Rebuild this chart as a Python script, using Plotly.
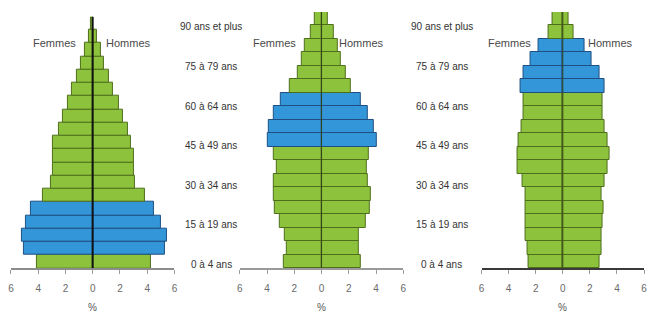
import plotly.graph_objects as go

ages = ["0 à 4 ans", "5 à 9 ans", "10 à 14 ans", "15 à 19 ans", "20 à 24 ans",
        "25 à 29 ans", "30 à 34 ans", "35 à 39 ans", "40 à 44 ans", "45 à 49 ans",
        "50 à 54 ans", "55 à 59 ans", "60 à 64 ans", "65 à 69 ans", "70 à 74 ans",
        "75 à 79 ans", "80 à 84 ans", "85 à 89 ans", "90 ans et plus"]

femmes_1 = [4.07, 5.04, 5.21, 4.87, 4.51, 3.66, 3.05, 2.93, 2.93, 2.93,
            2.50, 2.20, 1.82, 1.53, 1.16, 0.87, 0.56, 0.27, 0.10]
hommes_1 = [4.29, 5.33, 5.43, 5.02, 4.51, 3.85, 3.13, 3.00, 3.00, 2.84,
            2.59, 2.23, 1.94, 1.50, 1.19, 0.85, 0.61, 0.29, 0.05]
femmes_2 = [2.76, 2.57, 2.69, 3.10, 3.42, 3.49, 3.47, 3.30, 3.49, 3.98,
            3.85, 3.49, 3.00, 2.33, 1.77, 1.43, 1.24, 0.82, 0.51]
hommes_2 = [2.91, 2.72, 2.76, 3.25, 3.56, 3.61, 3.42, 3.32, 3.49, 4.05,
            3.85, 3.37, 2.88, 2.16, 1.79, 1.43, 1.19, 0.87, 0.45]
femmes_3 = [2.52, 2.64, 2.72, 2.76, 2.76, 2.76, 3.00, 3.37, 3.37, 3.30,
            3.05, 2.88, 2.88, 3.13, 2.88, 2.40, 1.79, 1.07, 0.75]
hommes_3 = [2.69, 2.86, 2.86, 2.93, 2.98, 2.86, 3.05, 3.30, 3.42, 3.30,
            3.05, 2.93, 2.93, 3.10, 2.69, 2.13, 1.60, 0.80, 0.39]

# baby-boom cohort highlighted in blue (first age-group index of the 4 groups)
boom_start = [1, 9, 13]
shown_ages = ["0 à 4 ans", "15 à 19 ans", "30 à 34 ans", "45 à 49 ans",
              "60 à 64 ans", "75 à 79 ans", "90 ans et plus"]
tick_vals = [-6, -4, -2, 0, 2, 4, 6]
tick_text = ["6", "4", "2", "0", "2", "4", "6"]

GREEN, GREEN_LINE = "#8cc23c", "#4f6e1c"
BLUE, BLUE_LINE = "#3396d8", "#1f4f82"

W, H = 651, 322
x_domains = [(8, 173), (239, 404), (483, 647)]
y_domains = [(16.7, 268.3), (12.0, 268.3), (12.0, 268.3)]
axis_line_colors = ["#8c8c8c", "#9a9a9a", "#3a3a3a"]
fem_centers = [-2.8, -3.47, -3.92]
hom_centers = [2.62, 2.95, 3.51]

panels = [(femmes_1, hommes_1), (femmes_2, hommes_2), (femmes_3, hommes_3)]

fig = go.Figure()
yidx = list(range(len(ages)))

for p, (fem, hom) in enumerate(panels):
    xa = "x" if p == 0 else f"x{p+1}"
    ya = "y" if p == 0 else f"y{p+1}"
    s = boom_start[p]
    cols = [BLUE if s <= i < s + 4 else GREEN for i in yidx]
    lcols = [BLUE_LINE if s <= i < s + 4 else GREEN_LINE for i in yidx]
    fig.add_trace(go.Bar(y=yidx, x=[-v for v in fem], orientation="h", width=1,
                         marker=dict(color=cols, line=dict(color=lcols, width=1)),
                         xaxis=xa, yaxis=ya, showlegend=False, name="Femmes",
                         text=ages, hovertemplate="%{text}: %{customdata}%<extra>Femmes</extra>",
                         customdata=fem, textposition="none"))
    fig.add_trace(go.Bar(y=yidx, x=hom, orientation="h", width=1,
                         marker=dict(color=cols, line=dict(color=lcols, width=1)),
                         xaxis=xa, yaxis=ya, showlegend=False, name="Hommes",
                         text=ages, hovertemplate="%{text}: %{x}%<extra>Hommes</extra>",
                         textposition="none"))

layout = dict(width=W, height=H, margin=dict(l=0, r=0, t=0, b=0),
              paper_bgcolor="white", plot_bgcolor="white", barmode="overlay",
              bargap=0, font=dict(family="Liberation Sans, Arial, sans-serif", size=10, color="#333"))

annotations = []
shapes = []
for p in range(3):
    xk = "xaxis" if p == 0 else f"xaxis{p+1}"
    yk = "yaxis" if p == 0 else f"yaxis{p+1}"
    xref = "x" if p == 0 else f"x{p+1}"
    yref = "y" if p == 0 else f"y{p+1}"
    x0, x1 = x_domains[p]
    ytop, ybot = y_domains[p]
    layout[xk] = dict(domain=[x0 / W, x1 / W], range=[-6, 6], anchor=yref,
                      showgrid=False, zeroline=False, showline=True,
                      linecolor=axis_line_colors[p], linewidth=2,
                      ticks="outside", ticklen=4, tickcolor="#9a9a9a", tickwidth=1,
                      tickvals=tick_vals, ticktext=tick_text,
                      tickfont=dict(size=10, color="#6a6a6a"), ticklabelstandoff=6,
                      fixedrange=True)
    layout[yk] = dict(domain=[1 - ybot / H, 1 - ytop / H], range=[-0.5, len(ages) - 0.5],
                      anchor=xref, showgrid=False, zeroline=False, showline=False,
                      showticklabels=False, ticks="", fixedrange=True)
    # central axis
    shapes.append(dict(type="line", xref=xref, yref=yref, x0=0, x1=0, y0=-0.5,
                       y1=len(ages) - 0.5,
                       line=dict(color="#111" if p == 0 else "#34451a", width=2 if p == 0 else 1),
                       layer="above"))
    # % label
    annotations.append(dict(xref=xref, yref="paper", x=0, y=1 - 307 / H, text="%",
                            yanchor="middle", showarrow=False,
                            font=dict(size=10, color="#555")))
    annotations.append(dict(xref=xref, yref="paper", x=fem_centers[p], y=1 - 43 / H,
                            yanchor="middle", text="Femmes", showarrow=False,
                            font=dict(size=11, color="#4a4a4a")))
    annotations.append(dict(xref=xref, yref="paper", x=hom_centers[p], y=1 - 43 / H,
                            yanchor="middle", text="Hommes", showarrow=False,
                            font=dict(size=11, color="#4a4a4a")))

# age labels between panels (belong to panels 2 and 3)
label_x = [210 / W, 443 / W]
for k, yref in enumerate(["y2", "y3"]):
    for lab in shown_ages:
        i = ages.index(lab)
        annotations.append(dict(xref="paper", yref=yref, x=label_x[k], y=i,
                                text=lab, showarrow=False, xanchor="center",
                                yanchor="middle",
                                yshift=-3 - 5 * i / (len(ages) - 1),
                                font=dict(size=10, color="#333")))

layout["annotations"] = annotations
layout["shapes"] = shapes
fig.update_layout(**layout)
fig.write_html("out.html")
